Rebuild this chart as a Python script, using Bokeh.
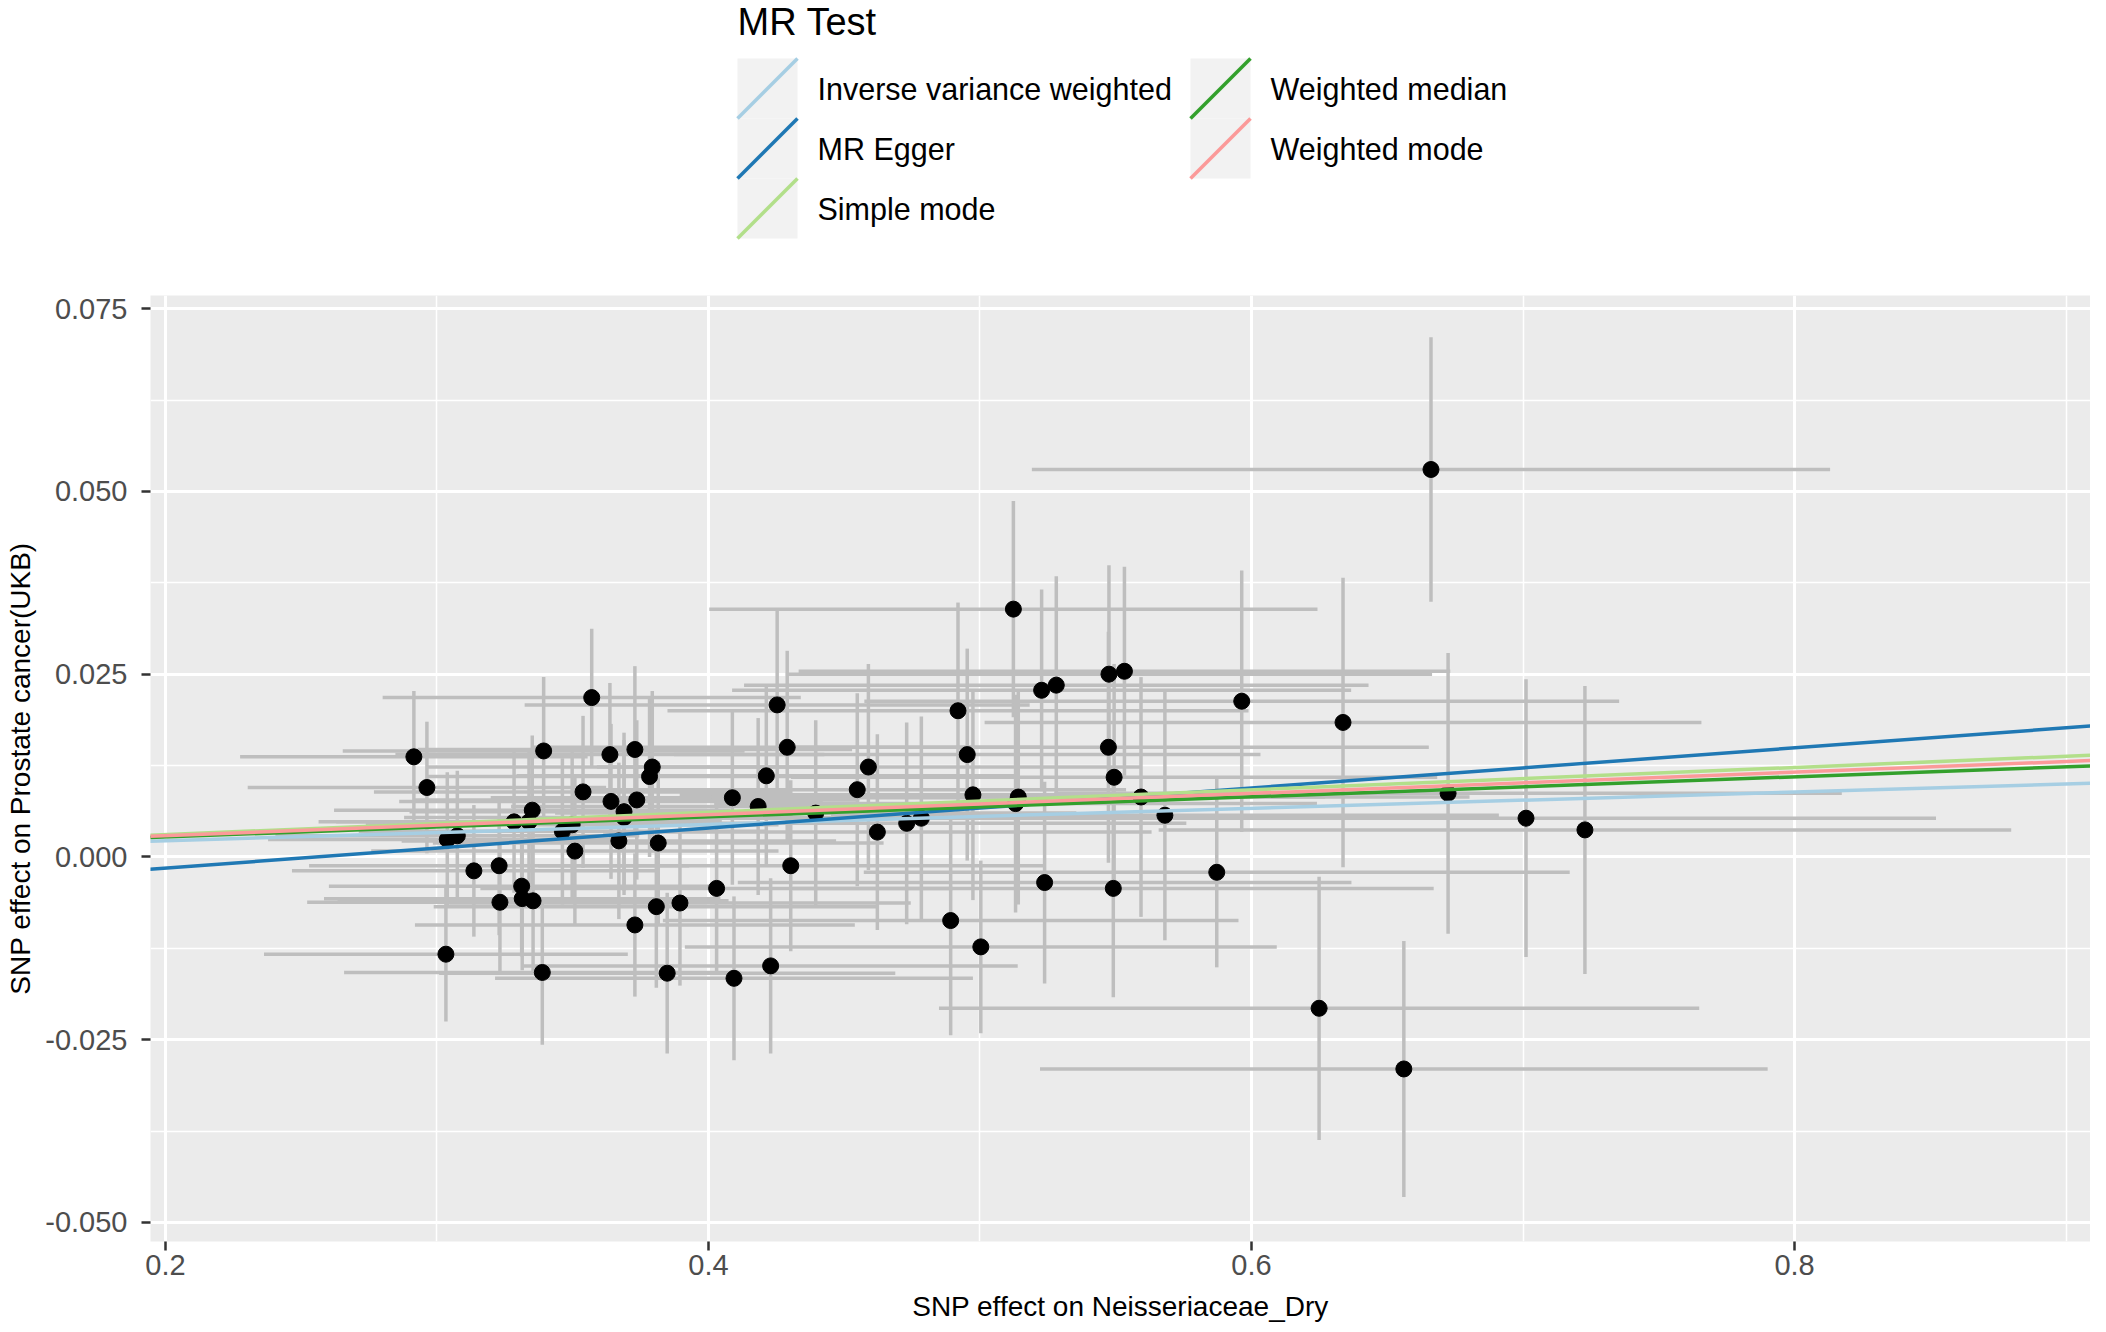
from bokeh.plotting import figure
from bokeh.models import Range1d, FixedTicker, Slope, ColumnDataSource
from bokeh.layouts import column
from bokeh.embed import file_html
from bokeh.resources import INLINE
from bokeh.core.properties import value

# ---------------- data ----------------
snp_x = [0.2915, 0.2963, 0.3038, 0.3075, 0.3033, 0.3136, 0.3229, 0.3232, 0.3284, 0.3312,
         0.3314, 0.3354, 0.3351, 0.3339, 0.3393, 0.3388, 0.3462, 0.3498, 0.3508, 0.3538,
         0.3570, 0.3637, 0.3641, 0.3670, 0.3689, 0.3689, 0.3729, 0.3736, 0.3729, 0.3783,
         0.3793, 0.3808, 0.3815, 0.3848, 0.3895, 0.4030, 0.4088, 0.4094, 0.4183, 0.4213,
         0.4229, 0.4253, 0.4290, 0.4303, 0.4395, 0.4548, 0.4589, 0.4622, 0.4730, 0.4784,
         0.4892, 0.4919, 0.4953, 0.4974, 0.5003, 0.5123, 0.5131, 0.5141, 0.5227, 0.5281,
         0.5238, 0.5475, 0.5532, 0.5473, 0.5494, 0.5491, 0.5593, 0.5681, 0.5872, 0.5964,
         0.6249, 0.6337, 0.6561, 0.6661, 0.6724, 0.7011, 0.7228]
snp_y = [0.0137, 0.0095, 0.0024, 0.0029, -0.0133, -0.0019, -0.0012, -0.0062, 0.0048, -0.0040,
         -0.0057, -0.0060, 0.0064, 0.0048, 0.0145, -0.0158, 0.0035, 0.0044, 0.0008, 0.0089,
         0.0218, 0.0140, 0.0076, 0.0022, 0.0062, 0.0054, 0.0147, 0.0078, -0.0093, 0.0110,
         0.0123, -0.0068, 0.0019, -0.0159, -0.0063, -0.0043, 0.0081, -0.0166, 0.0069, 0.0111,
         -0.0149, 0.0208, 0.0150, -0.0012, 0.0060, 0.0092, 0.0123, 0.0034, 0.0046, 0.0053,
         -0.0087, 0.0200, 0.0140, 0.0085, -0.0123, 0.0339, 0.0073, 0.0082, 0.0228, 0.0235,
         -0.0035, 0.0250, 0.0254, 0.0150, 0.0109, -0.0043, 0.0082, 0.0057, -0.0021, 0.0213,
         -0.0207, 0.0184, -0.0290, 0.0530, 0.0087, 0.0053, 0.0037]
se_x = [0.064, 0.066, 0.066, 0.067, 0.067, 0.067, 0.070, 0.071, 0.072, 0.071,
        0.073, 0.072, 0.073, 0.071, 0.074, 0.073, 0.075, 0.076, 0.075, 0.077,
        0.077, 0.079, 0.078, 0.080, 0.079, 0.081, 0.080, 0.082, 0.081, 0.082,
        0.083, 0.082, 0.083, 0.084, 0.085, 0.087, 0.089, 0.088, 0.091, 0.092,
        0.091, 0.093, 0.094, 0.093, 0.096, 0.099, 0.100, 0.101, 0.103, 0.104,
        0.106, 0.107, 0.108, 0.108, 0.109, 0.112, 0.111, 0.113, 0.114, 0.115,
        0.113, 0.119, 0.120, 0.118, 0.119, 0.118, 0.121, 0.123, 0.130, 0.139,
        0.140, 0.132, 0.134, 0.147, 0.145, 0.151, 0.157]
se_y = [0.0090, 0.0090, 0.0092, 0.0089, 0.0092, 0.0090, 0.0095, 0.0094, 0.0097, 0.0096,
        0.0098, 0.0097, 0.0102, 0.0098, 0.0101, 0.0099, 0.0100, 0.0103, 0.0101, 0.0104,
        0.0094, 0.0098, 0.0106, 0.0107, 0.0108, 0.0106, 0.0114, 0.0109, 0.0098, 0.0110,
        0.0104, 0.0111, 0.0112, 0.0110, 0.0113, 0.0118, 0.0119, 0.0112, 0.0121, 0.0123,
        0.0120, 0.0130, 0.0132, 0.0117, 0.0127, 0.0132, 0.0141, 0.0134, 0.0138, 0.0139,
        0.0157, 0.0148, 0.0145, 0.0144, 0.0118, 0.0148, 0.0149, 0.0147, 0.0138, 0.0149,
        0.0138, 0.0149, 0.0143, 0.0158, 0.0155, 0.0149, 0.0164, 0.0171, 0.0130, 0.0179,
        0.0180, 0.0198, 0.0175, 0.0181, 0.0192, 0.0190, 0.0197]

methods = ["Inverse variance weighted", "MR Egger", "Simple mode",
           "Weighted median", "Weighted mode"]
method_slope = [0.0111, 0.0274, 0.0153, 0.0137, 0.0145]
method_intercept = [0.0, -0.0070, 0.0, 0.0, 0.0]
method_color = ["#A6CEE3", "#1F78B4", "#B2DF8A", "#33A02C", "#FB9A99"]

x_ticks = [0.2, 0.4, 0.6, 0.8]
x_tick_labels = ["0.2", "0.4", "0.6", "0.8"]
x_minor = [0.3, 0.5, 0.7, 0.9]
y_ticks = [-0.050, -0.025, 0.0, 0.025, 0.050, 0.075]
y_tick_labels = ["-0.050", "-0.025", "0.000", "0.025", "0.050", "0.075"]
y_minor = [-0.0375, -0.0125, 0.0125, 0.0375, 0.0625]

legend_title = "MR Test"
x_title = "SNP effect on Neisseriaceae_Dry"
y_title = "SNP effect on Prostate cancer(UKB)"

FONT = "Liberation Sans"
W = 2090
LEFT = 150
LEG_H = 288
MAIN_H = 1036

# ---------------- legend (drawn as its own strip) ----------------
leg = figure(width=W, height=LEG_H, x_range=Range1d(LEFT, W), y_range=Range1d(LEG_H, 0),
             output_backend="svg", toolbar_location=None,
             min_border_left=LEFT, min_border_right=0, min_border_top=0, min_border_bottom=0,
             x_axis_location=None, y_axis_location=None)
leg.outline_line_color = None
leg.background_fill_color = "white"
leg.border_fill_color = "white"
leg.xgrid.visible = False
leg.ygrid.visible = False

key_w, key_h = 60, 60
col_x0 = [737, 1190]
row_y0 = 58
lab_gap = 20
kl, kr, kt, kb, lx, ly = [], [], [], [], [], []
for i, m in enumerate(methods):
    c, r = i // 3, i % 3
    left = col_x0[c]
    top = row_y0 + r * key_h
    kl.append(left); kr.append(left + key_w)
    kt.append(top); kb.append(top + key_h)
    lx.append(left + key_w + lab_gap); ly.append(top + key_h / 2)

leg.quad(left=kl, right=kr, top=kt, bottom=kb, fill_color="#F2F2F2", line_color=None)
leg.segment(x0=kl, y0=kb, x1=kr, y1=kt, line_color=method_color, line_width=3.5)
leg.text(x=lx, y=ly, text=methods, text_font=value(FONT), text_font_size="30.5px",
         text_baseline="middle", text_align="left", text_color="black")
leg.text(x=[col_x0[0]], y=[21], text=[legend_title], text_font=value(FONT),
         text_font_size="38px", text_baseline="middle", text_align="left", text_color="black")

# ---------------- main scatter ----------------
p = figure(width=W, height=MAIN_H, x_range=Range1d(0.1945, 0.9090),
           y_range=Range1d(-0.0526, 0.0768), output_backend="svg", toolbar_location=None,
           min_border_left=LEFT, min_border_right=0, min_border_top=7, min_border_bottom=83)
p.background_fill_color = "#EBEBEB"
p.border_fill_color = "white"
p.outline_line_color = None

p.xaxis.ticker = FixedTicker(ticks=x_ticks, minor_ticks=x_minor)
p.yaxis.ticker = FixedTicker(ticks=y_ticks, minor_ticks=y_minor)
p.xaxis.major_label_overrides = {t: s for t, s in zip(x_ticks, x_tick_labels)}
p.yaxis.major_label_overrides = {t: s for t, s in zip(y_ticks, y_tick_labels)}

for g in (p.xgrid[0], p.ygrid[0]):
    g.grid_line_color = "white"
    g.grid_line_width = 3
    g.minor_grid_line_color = "white"
    g.minor_grid_line_width = 1.5

for ax in (p.xaxis[0], p.yaxis[0]):
    ax.axis_line_color = None
    ax.major_tick_line_color = "#333333"
    ax.major_tick_line_width = 2.5
    ax.major_tick_out = 9
    ax.major_tick_in = 0
    ax.minor_tick_line_color = None
    ax.major_label_text_font = FONT
    ax.major_label_text_font_size = "29px"
    ax.major_label_text_color = "#4D4D4D"
    ax.axis_label_text_font = FONT
    ax.axis_label_text_font_size = "28px"
    ax.axis_label_text_font_style = "normal"
    ax.axis_label_text_color = "black"

p.xaxis.axis_label = x_title
p.yaxis.axis_label = y_title
p.xaxis.major_label_standoff = 4
p.xaxis.axis_label_standoff = 13
p.yaxis.major_label_standoff = 14
p.yaxis.axis_label_standoff = 6

src = ColumnDataSource(dict(
    x=snp_x, y=snp_y,
    xl=[a - b for a, b in zip(snp_x, se_x)], xh=[a + b for a, b in zip(snp_x, se_x)],
    yl=[a - b for a, b in zip(snp_y, se_y)], yh=[a + b for a, b in zip(snp_y, se_y)],
))
p.segment(x0="x", y0="yl", x1="x", y1="yh", source=src, line_color="#BEBEBE", line_width=3.5)
p.segment(x0="xl", y0="y", x1="xh", y1="y", source=src, line_color="#BEBEBE", line_width=3.5)
p.scatter(x="x", y="y", source=src, size=16, fill_color="black", line_color="black")

for s, b, c in zip(method_slope, method_intercept, method_color):
    p.add_layout(Slope(gradient=s, y_intercept=b, line_color=c, line_width=3.5))

layout = column(leg, p, spacing=0)
open("out.html", "w").write(file_html(layout, INLINE))
